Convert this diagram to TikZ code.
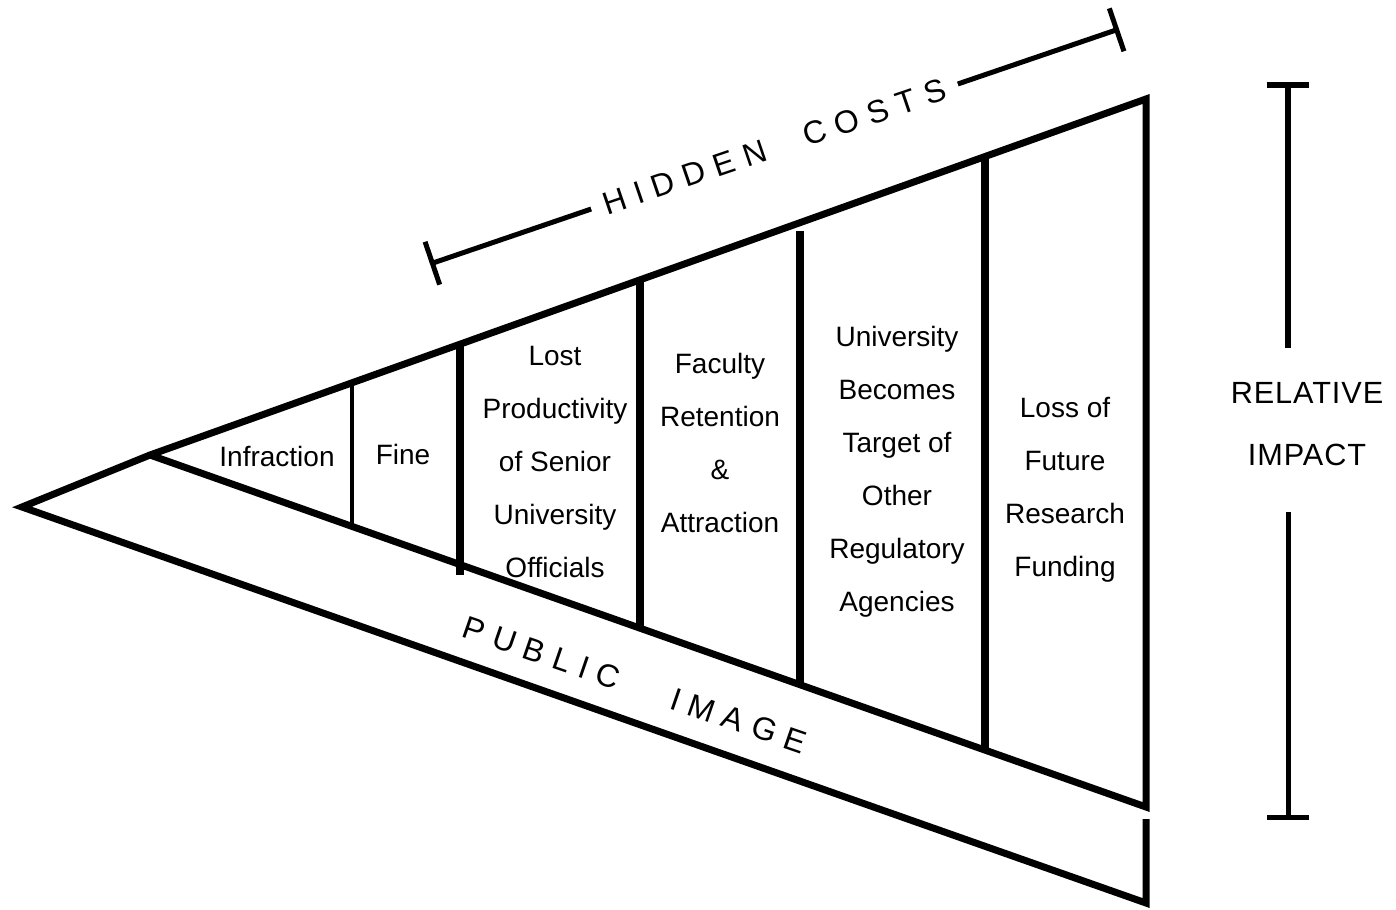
\documentclass[tikz,border=0pt]{standalone}
\usepackage{fontspec}
\setmainfont{Liberation Sans}
\usepackage{tikz}
\usetikzlibrary{calc,arrows.meta}

\tikzset{
  outline/.style={line width=5.25pt, line join=miter},
  slab/.style={line width=6pt},
  thinslab/.style={line width=3pt},
  costlbl/.style={align=center, inner sep=0pt, font=\fontsize{21}{39.75}\selectfont},
  spaced/.style={inner sep=0pt, font=\fontsize{24}{28}\selectfont\addfontfeature{LetterSpace=30}},
}

\begin{document}
\begin{tikzpicture}[x=0.75pt,y=0.75pt,yscale=-1,xscale=1]
    \useasboundingbox (0,0) rectangle (1396,910);
    % corners of the wedge
    \coordinate (otip) at (22,507);
    \coordinate (itip) at (150,455);
    \coordinate (tr) at (1146,99);
    \coordinate (br) at (1146,807);
    \coordinate (gap) at (1146,819);
    \coordinate (obr) at (1146,903);
    %Shape: wedge
    \draw[outline] (gap) -- (obr) -- (otip) -- (itip) -- (tr) -- (br) -- (itip);
    %Straight Lines: dividers
    \draw[thinslab] ($(itip)!0.2028!(tr)$) -- ($(itip)!0.2028!(br)$);
    \draw[slab] ($(itip)!0.3112!(tr)$) -- ($(itip)!0.3112!(br)+(0,10)$);
    \draw[slab] ($(itip)!0.4920!(tr)$) -- ($(itip)!0.4920!(br)$);
    \draw[slab] ($(itip)!0.6526!(tr)+(0,8)$) -- ($(itip)!0.6526!(br)$);
    \draw[slab] ($(itip)!0.8384!(tr)$) -- ($(itip)!0.8384!(br)$);
    % Text Node
    \node[costlbl] (infraction) at (277,456) {Infraction};
    \node[costlbl] (fine) at (403,454) {Fine};
    \node[costlbl] (lost) at (555,462) {Lost\\Productivity\\of Senior\\University\\Officials};
    \node[costlbl] (faculty) at (720,443) {Faculty\\Retention\\\&\\Attraction};
    \node[costlbl] (target) at (897,472) {University\\Becomes\\Target of\\Other\\Regulatory\\Agencies};
    \node[costlbl] (funding) at (1065,490) {Loss of\\Future\\Research\\Funding};
    % hidden costs bracket
    \coordinate (hcL) at (430,264);
    \coordinate (hcR) at (1119,29);
    \draw[line width=3.75pt, {Bar[width=34pt]}-{Bar[width=34pt]}] (hcL) -- node[spaced, rotate=18.8, fill=white, inner xsep=10pt] (hidden) {HIDDEN\hspace{17pt} COSTS} (hcR);
    % Text Node
    \node[spaced, rotate=-19] (public) at (635,685) {PUBLIC\hspace{28pt} IMAGE};
    % relative impact bar
    \node[align=center, inner sep=0pt, font=\fontsize{23}{47}\selectfont\addfontfeature{LetterSpace=3}] (impact) at (1307,424) {RELATIVE\\IMPACT};
    \coordinate (itop) at (1288,82);
    \coordinate (iup) at (1288,348);
    \coordinate (ilow) at (1288,512);
    \coordinate (ibot) at (1288,820);
    \draw[line width=4.5pt, -{Bar[width=32pt]}] (iup) -- (itop);
    \draw[line width=3.75pt, -{Bar[width=32pt]}] (ilow) -- (ibot);
\end{tikzpicture}
\end{document}
